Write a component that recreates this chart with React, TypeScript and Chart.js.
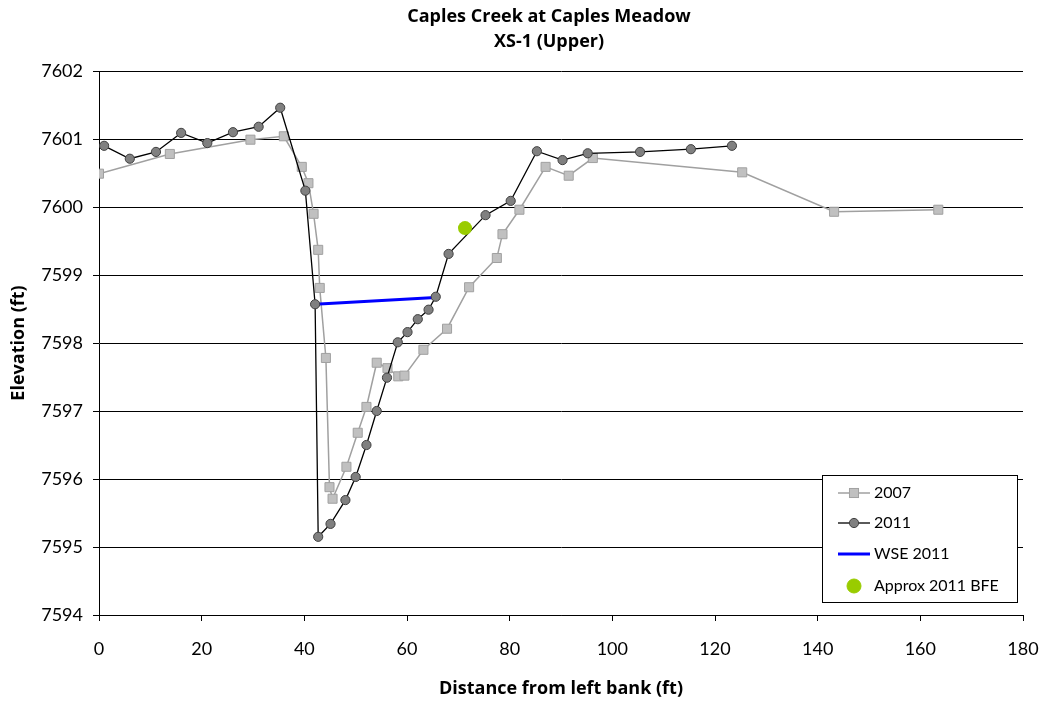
import React, { useEffect, useRef } from "react";
import { Chart, registerables } from "chart.js";

Chart.register(...registerables);

// Surveyed cross-section XS-1 (Upper), Caples Creek at Caples Meadow
const station2007 = [0, 13.8, 29.5, 36, 39.5, 40.8, 41.8, 42.7, 43, 44.2, 44.9, 45.5, 48.2, 50.4, 52.1, 54.1, 56.2, 58.3, 59.5, 63.2, 67.8, 72.1, 77.5, 78.6, 81.9, 87, 91.5, 96.2, 125.3, 143.2, 163.5];
const elev2007 = [7600.49, 7600.78, 7600.99, 7601.04, 7600.59, 7600.35, 7599.9, 7599.37, 7598.81, 7597.78, 7595.88, 7595.71, 7596.18, 7596.68, 7597.06, 7597.71, 7597.63, 7597.51, 7597.52, 7597.9, 7598.21, 7598.82, 7599.25, 7599.6, 7599.96, 7600.59, 7600.46, 7600.72, 7600.51, 7599.93, 7599.96];

const station2011 = [1, 6, 11.1, 16, 21.1, 26.1, 31.1, 35.3, 40.2, 42.1, 42.7, 45.1, 48, 50, 52.1, 54.1, 56.1, 58.2, 60.1, 62.1, 64.2, 65.6, 68.1, 75.3, 80.2, 85.3, 90.3, 95.2, 105.4, 115.3, 123.3];
const elev2011 = [7600.9, 7600.71, 7600.81, 7601.09, 7600.94, 7601.1, 7601.18, 7601.46, 7600.24, 7598.57, 7595.15, 7595.34, 7595.69, 7596.03, 7596.5, 7597.0, 7597.49, 7598.01, 7598.16, 7598.35, 7598.49, 7598.68, 7599.31, 7599.88, 7600.09, 7600.82, 7600.69, 7600.79, 7600.81, 7600.85, 7600.9];

const wseStation = [42.1, 65.5];
const wseElev = [7598.57, 7598.67];

const bfeStation = [71.3];
const bfeElev = [7599.69];

const xTicksMin = 0;
const xTicksMax = 180;
const xTickStep = 20;
const yTicksMin = 7594;
const yTicksMax = 7602;
const yTickStep = 1;

const titleLines = ["Caples Creek at Caples Meadow", "XS-1 (Upper)"];
const xTitle = "Distance from left bank (ft)";
const yTitle = "Elevation (ft)";

const FONT = "Lato, 'Open Sans', sans-serif";
const TITLE_FONT = "'Open Sans', Lato, sans-serif";

const pts = (xs: number[], ys: number[]) => xs.map((x, i) => ({ x, y: ys[i] }));

const titlePlugin = {
  id: "stackedTitle",
  afterDraw(chart: any) {
    const ctx = chart.ctx as CanvasRenderingContext2D;
    ctx.save();
    ctx.fillStyle = "#000";
    ctx.font = `bold 18px ${TITLE_FONT}`;
    ctx.textAlign = "center";
    ctx.textBaseline = "middle";
    const cx = 549;
    ctx.fillText(titleLines[0], cx, 17);
    ctx.fillText(titleLines[1], cx, 42);
    ctx.restore();
  },
};

const boxLegendPlugin = {
  id: "boxLegend",
  afterDraw(chart: any) {
    const ctx = chart.ctx as CanvasRenderingContext2D;
    const area = chart.chartArea;
    const w = 195;
    const h = 127;
    const x0 = area.right - 6 - w;
    const y0 = area.bottom - 13 - h;
    ctx.save();
    ctx.fillStyle = "#fff";
    ctx.fillRect(x0, y0, w, h);
    ctx.strokeStyle = "#000";
    ctx.lineWidth = 1;
    ctx.strokeRect(x0 + 0.5, y0 + 0.5, w, h);
    const rows = [18, 48, 79, 111];
    chart.data.datasets.forEach((ds: any, i: number) => {
      const yy = y0 + rows[i];
      const lx0 = x0 + 16;
      const lx1 = x0 + 48;
      const mx = (lx0 + lx1) / 2;
      if (ds.showLine !== false) {
        ctx.beginPath();
        ctx.strokeStyle = ds.borderColor;
        ctx.lineWidth = ds.borderWidth;
        ctx.moveTo(lx0, yy);
        ctx.lineTo(lx1, yy);
        ctx.stroke();
      }
      if (ds.pointRadius > 0) {
        ctx.fillStyle = ds.pointBackgroundColor;
        ctx.strokeStyle = ds.pointBorderColor;
        ctx.lineWidth = 1;
        if (ds.pointStyle === "rect") {
          const s = ds.pointRadius * Math.SQRT1_2;
          ctx.fillRect(mx - s, yy - s, 2 * s, 2 * s);
          ctx.strokeRect(mx - s, yy - s, 2 * s, 2 * s);
        } else {
          ctx.beginPath();
          ctx.arc(mx, yy, ds.pointRadius, 0, Math.PI * 2);
          ctx.fill();
          ctx.stroke();
        }
      }
      ctx.fillStyle = "#000";
      ctx.font = `16px ${FONT}`;
      ctx.textAlign = "left";
      ctx.textBaseline = "middle";
      ctx.fillText(ds.label, x0 + 52, yy);
    });
    ctx.restore();
  },
};

export default function App() {
  const canvasRef = useRef<HTMLCanvasElement | null>(null);

  useEffect(() => {
    const canvas = canvasRef.current;
    if (!canvas) return;
    const chart = new Chart(canvas, {
      type: "scatter",
      data: {
        datasets: [
          {
            label: "2007",
            data: pts(station2007, elev2007),
            showLine: true,
            borderColor: "#a0a0a0",
            borderWidth: 1.5,
            pointStyle: "rect",
            pointRadius: 6.4,
            pointHoverRadius: 6.4,
            pointBackgroundColor: "#c0c0c0",
            pointBorderColor: "#a0a0a0",
            pointBorderWidth: 1,
            order: 4,
          },
          {
            label: "2011",
            data: pts(station2011, elev2011),
            showLine: true,
            borderColor: "#000",
            borderWidth: 1.3,
            pointStyle: "circle",
            pointRadius: 4.6,
            pointHoverRadius: 4.6,
            pointBackgroundColor: "#808080",
            pointBorderColor: "#404040",
            pointBorderWidth: 1,
            order: 2,
          },
          {
            label: "WSE 2011",
            data: pts(wseStation, wseElev),
            showLine: true,
            borderColor: "#0000ff",
            borderWidth: 3,
            pointRadius: 0,
            pointHoverRadius: 0,
            order: 3,
          },
          {
            label: "Approx 2011 BFE",
            data: pts(bfeStation, bfeElev),
            showLine: false,
            borderColor: "#99cc00",
            pointStyle: "circle",
            pointRadius: 7,
            pointHoverRadius: 7,
            pointBackgroundColor: "#99cc00",
            pointBorderColor: "#99cc00",
            pointBorderWidth: 0,
            order: 1,
          },
        ] as any,
      },
      options: {
        animation: false,
        responsive: false,
        maintainAspectRatio: false,
        devicePixelRatio: 1,
        layout: { padding: { top: 71, right: 26, left: 0, bottom: 0 } },
        plugins: {
          legend: { display: false },
          title: { display: false },
          tooltip: { enabled: false },
        },
        scales: {
          x: {
            type: "linear",
            min: xTicksMin,
            max: xTicksMax,
            afterFit: (s: any) => {
              s.height = 87;
              s.paddingLeft = 0;
              s.paddingRight = 0;
            },
            ticks: {
              stepSize: xTickStep,
              color: "#000",
              font: { family: FONT, size: 18 },
              padding: 17,
              callback: (v: any) => String(v),
            },
            grid: {
              display: true,
              drawOnChartArea: false,
              drawTicks: true,
              tickLength: 6,
              color: "#000",
            },
            border: { display: true, color: "#000", width: 1 },
            title: {
              display: true,
              text: xTitle,
              color: "#000",
              font: { family: TITLE_FONT, size: 18, weight: "bold" },
              padding: { top: 0, bottom: 2 },
            },
          },
          y: {
            type: "linear",
            min: yTicksMin,
            max: yTicksMax,
            afterFit: (s: any) => {
              s.width = 99;
              s.paddingTop = 0;
              s.paddingBottom = 0;
            },
            ticks: {
              stepSize: yTickStep,
              color: "#000",
              font: { family: FONT, size: 18 },
              padding: 10,
              callback: (v: any) => String(v),
            },
            grid: {
              color: "#000",
              lineWidth: 1,
              drawTicks: true,
              tickLength: 6,
            },
            border: { display: true, color: "#000", width: 1 },
            title: {
              display: true,
              text: yTitle,
              color: "#000",
              font: { family: TITLE_FONT, size: 18, weight: "bold" },
              padding: { top: 8, bottom: 0 },
            },
          },
        },
      },
      plugins: [titlePlugin, boxLegendPlugin],
    });
    return () => chart.destroy();
  }, []);

  return (
    <div style={{ position: "absolute", left: 0, top: 0, width: 1049, height: 702, background: "#fff" }}>
      <canvas ref={canvasRef} width={1049} height={702} style={{ display: "block" }} />
    </div>
  );
}
